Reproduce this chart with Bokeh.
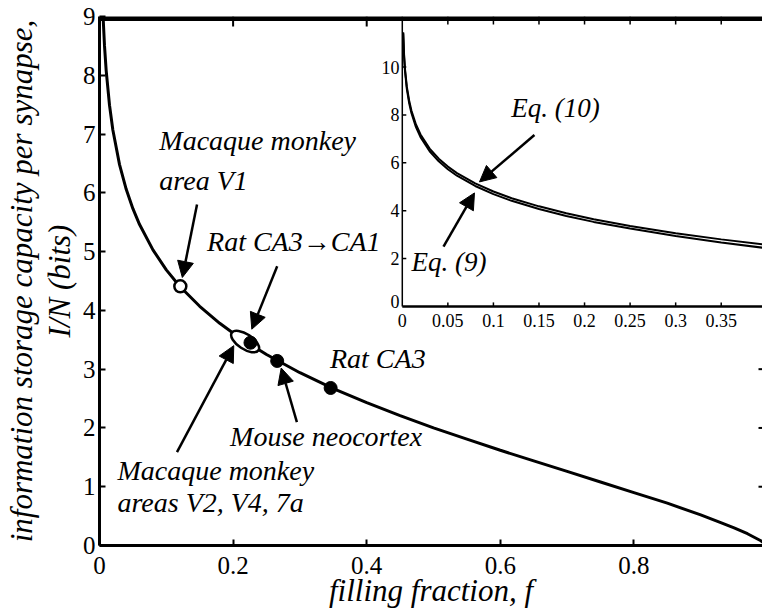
import numpy as np
from bokeh.plotting import figure
from bokeh.models import (Range1d, FixedTicker, Arrow, NormalHead,
                          Label, ColumnDataSource)
from bokeh.embed import file_html
from bokeh.resources import INLINE
from bokeh.core.properties import value

FONT = "Liberation Serif, Times New Roman, Times, DejaVu Serif, serif"

# ---------------- data ----------------
# main curve: information per synapse vs filling fraction
f_main = [0.003, 0.005, 0.0075, 0.01, 0.015, 0.02, 0.03, 0.04, 0.05, 0.06, 0.08,
          0.10, 0.12, 0.15, 0.18, 0.21, 0.25, 0.30, 0.35, 0.40, 0.45, 0.50, 0.55,
          0.60, 0.65, 0.70, 0.75, 0.80, 0.85, 0.90, 0.93, 0.95, 0.97, 0.99, 1.0]
I_main = [9.82, 9.08, 8.50, 8.08, 7.49, 7.07, 6.48, 6.06, 5.73, 5.46, 5.03,
          4.69, 4.41, 4.07, 3.78, 3.53, 3.25, 2.94, 2.67, 2.43, 2.21, 2.00, 1.81,
          1.62, 1.44, 1.26, 1.08, 0.90, 0.72, 0.52, 0.39, 0.30, 0.20, 0.08, 0.0]

# data points
open_f = [0.121]            # Macaque monkey area V1
open_I = [4.41]
ell_f = [0.218]             # Macaque monkey areas V2, V4, 7a
ell_I = [3.47]
filled_f = [0.226, 0.266, 0.346]   # Rat CA3->CA1, Mouse neocortex, Rat CA3
filled_I = [3.45, 3.14, 2.68]

# inset curves
f_ins = [0.001, 0.002, 0.003, 0.005, 0.0075, 0.01, 0.015, 0.02, 0.03, 0.04, 0.05,
         0.06, 0.08, 0.10, 0.12, 0.15, 0.18, 0.21, 0.25, 0.30, 0.35, 0.40]
I_eq9 = [11.41, 10.41, 9.82, 9.08, 8.50, 8.08, 7.49, 7.07, 6.48, 6.06, 5.73,
         5.46, 5.03, 4.69, 4.41, 4.07, 3.78, 3.53, 3.25, 2.94, 2.67, 2.43]
I_eq10 = [11.45, 10.48, 9.90, 9.17, 8.60, 8.18, 7.60, 7.18, 6.59, 6.17, 5.84,
          5.57, 5.14, 4.80, 4.52, 4.18, 3.89, 3.64, 3.36, 3.06, 2.80, 2.57]

# ticks
main_xticks = [0, 0.2, 0.4, 0.6, 0.8]
main_yticks = [0, 1, 2, 3, 4, 5, 6, 7, 8, 9]
top_ticks = [0.2, 0.4]
right_ticks = [1, 2, 3]
ins_xticks = [0, 0.05, 0.1, 0.15, 0.2, 0.25, 0.3, 0.35]
ins_xlabels = ["0", "0.05", "0.1", "0.15", "0.2", "0.25", "0.3", "0.35"]
ins_yticks = [2, 4, 6, 8, 10]
ins_ylabels = ["2", "4", "6", "8", "10"]

# annotation arrows (main, data coords)
arr_x0 = [0.146, 0.266, 0.116, 0.2955]
arr_y0 = [5.80, 4.75, 1.59, 2.10]
arr_x1 = [0.124, 0.228, 0.201, 0.272]
arr_y1 = [4.56, 3.68, 3.40, 3.02]
# inset arrows (inset data coords)
iarr_x0 = [0.145, 0.0452]
iarr_y0 = [7.16, 2.50]
iarr_x1 = [0.0847, 0.0792]
iarr_y1 = [5.20, 4.74]

# ---------------- figure ----------------
XMAX = 0.9925
YMAX = 9
p = figure(width=762, height=610, x_range=Range1d(0, XMAX), y_range=Range1d(0, YMAX),
           output_backend="svg", toolbar_location=None,
           min_border_left=97, min_border_right=0, min_border_top=16,
           min_border_bottom=63, outline_line_color=None)
p.grid.visible = False
p.background_fill_color = "white"

# inset ranges (share the frame)
IX0, IX1 = -0.3323, 0.3953
IY0, IY1 = -9.988, 12.11
p.extra_x_ranges = {"inset": Range1d(IX0, IX1)}
p.extra_y_ranges = {"inset": Range1d(IY0, IY1)}

for ax in (p.xaxis[0], p.yaxis[0]):
    ax.axis_line_width = 3
    ax.major_tick_in = 6
    ax.major_tick_out = 0
    ax.minor_tick_line_color = None
    ax.major_tick_line_width = 2
    ax.major_label_text_font = FONT
    ax.major_label_text_font_size = "25px"
    ax.major_label_text_color = "black"
    ax.axis_label_text_font = FONT
    ax.axis_label_text_font_size = "31px"
    ax.axis_label_text_font_style = "italic"
    ax.axis_label_text_color = "black"

p.xaxis.ticker = FixedTicker(ticks=main_xticks)
p.xaxis.major_label_overrides = {0: "0"}
p.xaxis.major_label_standoff = 11
p.xaxis.axis_label = "filling fraction, f"
p.xaxis.axis_label_standoff = -4

p.yaxis.ticker = FixedTicker(ticks=main_yticks)
p.yaxis.major_label_standoff = 4
p.yaxis.axis_label = "information storage capacity per synapse,\nI/N (bits)"
p.yaxis.axis_label_standoff = 3
p.yaxis.axis_label_text_line_height = 1.1

# top border (frame-clipped thick line) and its ticks
p.segment(x0=[0], y0=[YMAX], x1=[XMAX], y1=[YMAX], line_color="black", line_width=9)
p.ray(x=top_ticks, y=[YMAX] * len(top_ticks), length=10, length_units="screen",
      angle=-np.pi / 2, line_color="black", line_width=2)
# right-edge ticks
p.ray(x=[XMAX] * len(right_ticks), y=right_ticks, length=4, length_units="screen",
      angle=np.pi, line_color="black", line_width=2)

# main curve and points
p.line(f_main, I_main, line_color="black", line_width=3)
p.ellipse(x=ell_f, y=ell_I, width=32, height=15, width_units="screen",
          height_units="screen", angle=-0.58, fill_color="white",
          line_color="black", line_width=2.5)
p.scatter(filled_f, filled_I, size=13, fill_color="black", line_color="black")
p.scatter(open_f, open_I, size=12, fill_color="white", line_color="black",
          line_width=2.5)

head = dict(size=16, fill_color="black", line_color="black", line_width=1)
src_arr = ColumnDataSource(dict(x0=arr_x0, y0=arr_y0, x1=arr_x1, y1=arr_y1))
p.add_layout(Arrow(end=NormalHead(**head), x_start="x0", y_start="y0",
                   x_end="x1", y_end="y1", source=src_arr,
                   line_color="black", line_width=2.5))

def lab(x, y, text, size="28px", style="italic", font=FONT, **kw):
    p.add_layout(Label(x=x, y=y, text=text, text_font=font, text_font_size=size,
                       text_font_style=style, text_color="black", **kw))

lab(0.0896, 6.62, "Macaque monkey")
lab(0.0896, 5.95, "area V1")
lab(0.161, 4.90, "Rat CA3\u2192CA1")
lab(0.345, 2.92, "Rat CA3")
lab(0.1955, 1.59, "Mouse neocortex")
lab(0.0269, 1.02, "Macaque monkey")
lab(0.0269, 0.46, "areas V2, V4, 7a")

# ---------------- inset ----------------
R = dict(x_range_name="inset", y_range_name="inset")
p.line(f_ins, I_eq10, line_color="black", line_width=2, **R)
p.line(f_ins, I_eq9, line_color="black", line_width=2, **R)

# inset axes
p.segment(x0=[0], y0=[0], x1=[0], y1=[IY1], line_color="black", line_width=1.5, **R)
p.segment(x0=[0], y0=[0], x1=[IX1], y1=[0], line_color="black", line_width=2.5, **R)
n = len(ins_xticks) - 1
p.ray(x=ins_xticks[1:], y=[0] * n, length=4, length_units="screen",
      angle=np.pi / 2, line_color="black", line_width=1.5, **R)
p.ray(x=ins_xticks[1:], y=[IY1] * n, length=8, length_units="screen",
      angle=-np.pi / 2, line_color="black", line_width=1.5, **R)
p.ray(x=[0] * len(ins_yticks), y=ins_yticks, length=4, length_units="screen",
      angle=0, line_color="black", line_width=1.5, **R)
p.text(x=ins_xticks, y=[-0.3] * len(ins_xticks), text=ins_xlabels,
       text_font=value(FONT), text_font_size="18px", text_align="center",
       text_baseline="top", text_color="black", **R)
p.text(x=[-0.003] * len(ins_yticks), y=ins_yticks, text=ins_ylabels,
       text_font=value(FONT), text_font_size="18px", text_align="right",
       text_baseline="middle", text_color="black", **R)
p.text(x=[-0.003], y=[0.2], text=["0"], text_font=value(FONT),
       text_font_size="18px", text_align="right", text_baseline="middle",
       text_color="black", **R)

src_iarr = ColumnDataSource(dict(x0=iarr_x0, y0=iarr_y0, x1=iarr_x1, y1=iarr_y1))
p.add_layout(Arrow(end=NormalHead(**head), x_start="x0", y_start="y0",
                   x_end="x1", y_end="y1", source=src_iarr,
                   line_color="black", line_width=2.5, **R))
lab(0.1197, 7.68, "Eq. (10)", size="27px", **R)
lab(0.0102, 1.22, "Eq. (9)", size="27px", **R)

open("out.html", "w").write(file_html(p, INLINE))
